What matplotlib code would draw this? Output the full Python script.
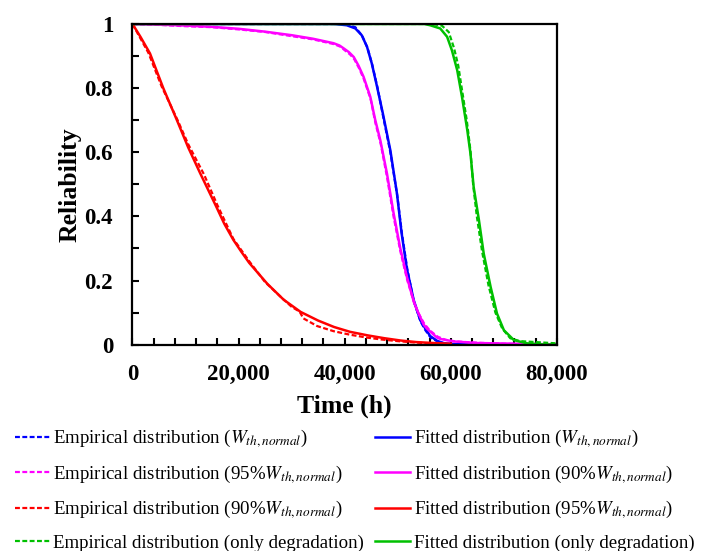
import matplotlib
matplotlib.use('Agg')
import matplotlib.pyplot as plt
from matplotlib.ticker import MultipleLocator, FuncFormatter


plt.rcParams['font.family'] = ['Liberation Serif', 'DejaVu Serif']
plt.rcParams['mathtext.fontset'] = 'stix'

# Reliability curves, time in hours.
blue_emp_t = [0, 40000, 42000, 43300, 44300, 45200, 46200, 47200, 48600, 49900, 50800, 51800, 53000, 54300, 55200, 56200, 57500, 59000, 62000, 80000]
blue_emp_r = [1, 1, 0.99, 0.963, 0.925, 0.872, 0.80, 0.715, 0.60, 0.465, 0.345, 0.235, 0.136, 0.072, 0.045, 0.022, 0.010, 0.003, 0, 0]
blue_fit_t = [0, 38000, 40400, 42000, 43200, 44200, 45100, 46100, 47200, 48600, 49850, 50700, 51700, 53000, 54250, 55200, 56100, 57400, 58600, 60000, 65000, 80000]
blue_fit_r = [1, 1, 0.996, 0.986, 0.965, 0.929, 0.877, 0.804, 0.72, 0.606, 0.471, 0.35, 0.238, 0.139, 0.076, 0.05, 0.027, 0.012, 0.005, 0.002, 0, 0]

mag_emp_t = [0, 5000, 10000, 15000, 20000, 25000, 30000, 34000, 38000, 39200, 40000, 41000, 41800, 42700, 43600, 44900, 45800, 46800, 48000, 49200, 50500, 51800, 53100, 54000, 55000, 56000, 57500, 59000, 61000, 65000, 70000, 80000]
mag_emp_r = [1, 0.997, 0.993, 0.99, 0.983, 0.975, 0.962, 0.952, 0.937, 0.929, 0.918, 0.905, 0.89, 0.862, 0.828, 0.765, 0.69, 0.625, 0.52, 0.40, 0.29, 0.20, 0.13, 0.095, 0.065, 0.045, 0.025, 0.015, 0.01, 0.006, 0.003, 0]
mag_fit_t = [0, 5000, 10000, 15000, 20000, 25000, 30000, 34000, 37900, 39000, 39800, 40800, 41700, 42600, 43560, 44820, 45760, 46700, 47960, 49220, 50480, 51740, 53000, 53630, 54900, 55500, 57400, 58000, 60500, 65000, 72000, 80000]
mag_fit_r = [1, 0.998, 0.995, 0.991, 0.985, 0.976, 0.965, 0.954, 0.94, 0.933, 0.924, 0.912, 0.897, 0.87, 0.835, 0.773, 0.70, 0.638, 0.534, 0.409, 0.30, 0.21, 0.135, 0.108, 0.062, 0.05, 0.022, 0.018, 0.01, 0.005, 0.003, 0.001]

red_emp_t = [0, 1500, 3000, 5500, 8500, 10500, 13500, 16000, 19000, 22000, 25000, 28000, 30000, 31500, 32200, 34800, 37900, 41000, 44200, 47000, 50000, 53000, 56000]
red_emp_r = [1, 0.955, 0.91, 0.805, 0.70, 0.625, 0.53, 0.435, 0.33, 0.26, 0.195, 0.148, 0.118, 0.103, 0.082, 0.058, 0.042, 0.031, 0.022, 0.016, 0.011, 0.007, 0.004]
red_fit_t = [0, 1500, 3300, 5800, 8400, 10500, 12800, 15800, 17300, 19000, 20500, 22000, 25400, 28500, 31700, 35000, 38000, 41000, 44300, 47500, 50500, 53500, 56800, 60000]
red_fit_r = [1, 0.96, 0.908, 0.80, 0.699, 0.615, 0.533, 0.43, 0.377, 0.327, 0.29, 0.255, 0.19, 0.14, 0.102, 0.075, 0.055, 0.04, 0.029, 0.02, 0.013, 0.008, 0.005, 0.003]

grn_emp_t = [0, 56500, 58300, 59600, 60600, 61400, 62100, 63000, 63700, 64200, 64900, 65900, 67100, 68400, 69700, 71200, 73000, 76000, 80000]
grn_emp_r = [1, 1, 0.995, 0.975, 0.925, 0.87, 0.795, 0.70, 0.605, 0.50, 0.40, 0.29, 0.185, 0.10, 0.05, 0.02, 0.011, 0.008, 0.004]
grn_fit_t = [0, 55000, 56100, 58000, 59300, 60200, 61200, 62100, 63100, 63700, 64300, 65300, 66200, 67500, 68700, 70000, 71900, 74400, 77000, 80000]
grn_fit_r = [1, 1, 0.996, 0.986, 0.96, 0.918, 0.856, 0.773, 0.669, 0.596, 0.492, 0.388, 0.284, 0.18, 0.097, 0.045, 0.014, 0.004, 0.001, 0]

W = r'$W_{th,normal}$'
emp_labels = ['Empirical distribution (' + W + ')',
              'Empirical distribution (95%' + W + ')',
              'Empirical distribution (90%' + W + ')',
              'Empirical distribution (only degradation)']
fit_labels = ['Fitted distribution (' + W + ')',
              'Fitted distribution (90%' + W + ')',
              'Fitted distribution (95%' + W + ')',
              'Fitted distribution (only degradation)']
colors = ['#0000FF', '#FF00FF', '#FF0000', '#00C000']

fig = plt.figure(figsize=(7.01, 5.51), dpi=100)
ax = fig.add_axes([0.189, 0.3745, 0.6055, 0.582])

emp = [(blue_emp_t, blue_emp_r), (mag_emp_t, mag_emp_r), (red_emp_t, red_emp_r), (grn_emp_t, grn_emp_r)]
fit = [(blue_fit_t, blue_fit_r), (mag_fit_t, mag_fit_r), (red_fit_t, red_fit_r), (grn_fit_t, grn_fit_r)]

emp_lines = []
fit_lines = []
for (te, re), (tf, rf), c, le, lf in zip(emp, fit, colors, emp_labels, fit_labels):
    l1, = ax.plot(te, re, color=c, lw=1.6, ls=(0, (2.2, 1.1)), label=le)
    l2, = ax.plot(tf, rf, color=c, lw=1.8, label=lf)
    emp_lines.append(l1)
    fit_lines.append(l2)

ax.set_xlim(0, 80000)
ax.set_ylim(0, 1)

# Ticks point inward, only bottom and left.
ax.xaxis.set_major_locator(MultipleLocator(20000))
ax.xaxis.set_minor_locator(MultipleLocator(4000))
ax.yaxis.set_major_locator(MultipleLocator(0.2))
ax.yaxis.set_minor_locator(MultipleLocator(0.1))
ax.xaxis.set_major_formatter(FuncFormatter(lambda v, p: '{:,.0f}'.format(v)))
ax.yaxis.set_major_formatter(FuncFormatter(lambda v, p: '%g' % round(v, 1)))
ax.tick_params(which='both', direction='in', length=5, width=1.5, top=False, right=False)
ax.tick_params(axis='x', which='major', pad=14)
ax.tick_params(axis='y', which='major', pad=14)
for lab in ax.get_xticklabels() + ax.get_yticklabels():
    lab.set_fontsize(16.5)
    lab.set_fontweight('bold')

for sp in ax.spines.values():
    sp.set_linewidth(1.6)

ax.set_xlabel('Time (h)', fontsize=18.5, fontweight='bold', labelpad=7)
ax.set_ylabel('Reliability', fontsize=18.5, fontweight='bold', labelpad=2)

# Two legend columns placed separately below the axes.
leg_kw = dict(loc='upper left', frameon=False, fontsize=13.6, handlelength=1.85,
              handletextpad=0.2, labelspacing=0.71, borderpad=0, borderaxespad=0)
fig.legend(emp_lines, emp_labels, bbox_to_anchor=(0.021, 0.223), **leg_kw)
fig.legend(fit_lines, fit_labels, bbox_to_anchor=(0.535, 0.223), **leg_kw)

fig.savefig('out.png', dpi=100)
